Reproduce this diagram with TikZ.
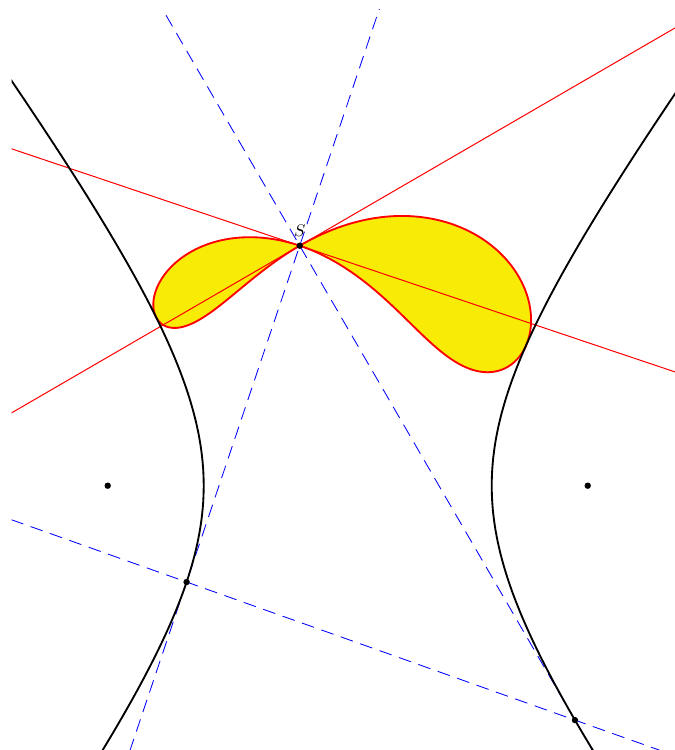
\documentclass[tikz,border=0pt]{standalone}
\usetikzlibrary{calc}

\begin{document}
\begin{tikzpicture}[
      hyper/.style={line width=1.1pt, smooth},
      pedal/.style={red, line width=1.1pt, fill=yellow!97!black, smooth},
      tline/.style={red, line width=0.6pt},
      pline/.style={blue, line width=0.5pt, dash pattern=on 7.6pt off 4.6pt},
      dot/.style={circle, fill=black, inner sep=0pt, minimum size=3.8pt},
      declare function={kk(\u)=(-1/3-1.25*sin(\u)-cos(\u))/(1/9+sin(\u)^2/16);}]
      \useasboundingbox (-7.244,-5.506) rectangle (6.798,10.119);
      \clip (-7,-6) rectangle (7.5,9.92);
      % x^2/9 - y^2/16 = 1, point S and its tangents
      \coordinate (S) at (-1,5);
      \coordinate (F1) at (-5,0);
      \coordinate (F2) at (5,0);
      \coordinate (T1) at (-3.3563,-2.0066);
      \coordinate (T2) at (4.7342,-4.8833);
      % pedal curve of the hyperbola with respect to S
      \draw[pedal] plot[domain=0:360, samples=241, variable=\u]
            ({-1-kk(\u)/3}, {5+kk(\u)*sin(\u)/4}) -- cycle;
      \draw[pline] ($(S)!-3!(T1)$) -- ($(S)!3!(T1)$);
      \draw[pline] ($(S)!-3!(T2)$) -- ($(S)!3!(T2)$);
      \draw[pline] ($(T1)!-2!(T2)$) -- ($(T1)!3!(T2)$);
      \draw[tline] ($(S)!-3!90:(T1)$) -- ($(S)!3!90:(T1)$);
      \draw[tline] ($(S)!-3!90:(T2)$) -- ($(S)!3!90:(T2)$);
      \draw[hyper] plot[domain=-1.3:1.7, samples=80, variable=\t] ({3*cosh(\t)}, {4*sinh(\t)});
      \draw[hyper] plot[domain=-1.3:1.7, samples=80, variable=\t] ({-3*cosh(\t)}, {4*sinh(\t)});
      \node[dot, label={above:$S$}] (s) at (S) {};
      \node[dot] (f1) at (F1) {};
      \node[dot] (f2) at (F2) {};
      \node[dot] (t1) at (T1) {};
      \node[dot] (t2) at (T2) {};
    \end{tikzpicture}
\end{document}
